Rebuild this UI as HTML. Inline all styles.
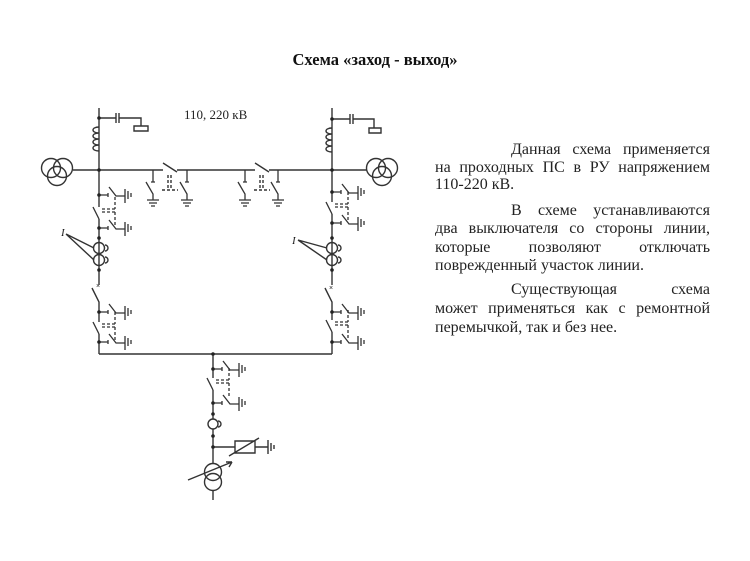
<!DOCTYPE html>
<html><head><meta charset="utf-8"><style>
body{margin:0;background:#fff;}
#w{position:relative;width:750px;height:561px;overflow:hidden;background:#fff;}
.t{position:absolute;left:0;width:750px;top:50px;text-align:center;font:bold 16.5px "Liberation Serif",serif;color:#111;}
.l{position:absolute;left:435px;width:275px;font:16px "Liberation Serif",serif;color:#222;text-align:justify;text-align-last:justify;white-space:nowrap;height:18px;line-height:18px;}
.l.e{text-align-last:left;}
.l.i{left:511px;width:199px;}
svg{position:absolute;left:0;top:0;}
</style></head><body><div id="w">
<div class="t">Схема «заход - выход»</div>
<div class="l i" style="top:141px;display:flex;justify-content:space-between"><span>Данная</span><span>схема</span><span>применяется</span></div>
<div class="l" style="top:159px;display:flex;justify-content:space-between"><span>на</span><span>проходных</span><span>ПС</span><span>в</span><span>РУ</span><span>напряжением</span></div>
<div class="l e" style="top:176px">110-220 кВ.</div>
<div class="l i" style="top:202px;display:flex;justify-content:space-between"><span>В</span><span>схеме</span><span>устанавливаются</span></div>
<div class="l" style="top:220px;display:flex;justify-content:space-between"><span>два</span><span>выключателя</span><span>со</span><span>стороны</span><span>линии,</span></div>
<div class="l" style="top:239px;display:flex;justify-content:space-between"><span>которые</span><span>позволяют</span><span>отключать</span></div>
<div class="l e" style="top:257px">поврежденный участок линии.</div>
<div class="l i" style="top:281px;display:flex;justify-content:space-between"><span>Существующая</span><span>схема</span></div>
<div class="l" style="top:300px;display:flex;justify-content:space-between"><span>может</span><span>применяться</span><span>как</span><span>с</span><span>ремонтной</span></div>
<div class="l e" style="top:319px">перемычкой, так и без нее.</div>
<svg width="750" height="561" viewBox="0 0 750 561">
<defs>
<g id="gs" stroke="#333" stroke-width="1.3" fill="none">
<path d="M0 0H9M9 -2V2M10 -8L17 1H26M26 -6V8M29 -4V4M32 -2V2"/>
</g>
<g id="gd" stroke="#333" stroke-width="1.3" fill="none">
<path d="M0 0V12M-2 12H2M-7 12L0 24V30M-6 30H6M-4 33H4M-2 36H2"/>
</g>
<g id="brk" stroke="#333" stroke-width="1.3" fill="none">
<path d="M-6 0L0 12"/>
<path d="M3 2H16M3 5H16M16 -10V2M16 5V18" stroke-dasharray="3 2"/>
</g>
</defs>
<g stroke="#333" stroke-width="1.4" fill="none">
<path d="M73 170H163M177 170H255M269 170H367"/>
<path d="M163 163L177 172M255 163L269 172"/>
<path d="M168 175V188M171 175V188M260 175V188M263 175V188M162 190H178M254 190H270" stroke-dasharray="3 2"/>
<circle cx="51" cy="168" r="9.5"/><circle cx="63" cy="168" r="9.5"/><circle cx="57" cy="176" r="9.5"/>
<circle cx="376" cy="168" r="9.5"/><circle cx="388" cy="168" r="9.5"/><circle cx="382" cy="176" r="9.5"/>
<path d="M99 108V207M99 219V285M92 288L99 302V322M99 334V354"/>
<path d="M99 118H116M116 113V123M119 113V123M119 118H141V126M134 126H148V131H134Z"/>
<path d="M99 127c-8 0-8 6 0 6c-8 0-8 6 0 6c-8 0-8 6 0 6c-8 0-8 6 0 6"/>
<circle cx="99" cy="248" r="5.5"/><circle cx="99" cy="260" r="5.5"/>
<path d="M105 245a3 3 0 0 1 0 6M105 257a3 3 0 0 1 0 6"/>
<path d="M66 234L94 248M66 234L94 260"/>
<path d="M332 108V202M332 214V285M325 288L332 302V320M332 332V354"/>
<path d="M332 119H350M350 114V124M353 114V124M353 119H374V128M369 128H381V133H369Z"/>
<path d="M332 128c-8 0-8 6 0 6c-8 0-8 6 0 6c-8 0-8 6 0 6c-8 0-8 6 0 6"/>
<circle cx="332" cy="248" r="5.5"/><circle cx="332" cy="260" r="5.5"/>
<path d="M338 245a3 3 0 0 1 0 6M338 257a3 3 0 0 1 0 6"/>
<path d="M298 240L327 248M298 240L327 260"/>
<path d="M99 354H332"/>
<path d="M213 354V378M213 390V419M213 429V464M213 490V500"/>
<path d="M213 447H235M235 441H255V453H235ZM229 456L259 438M255 447H268M268 440V454M271 443V451M274 445V449"/>
<circle cx="213" cy="424" r="5"/><path d="M218 421a3 3 0 0 1 0 6"/>
<circle cx="213" cy="472" r="8.5"/><circle cx="213" cy="482" r="8.5"/>
<path d="M188 480L232 462M232 462l-6 0M232 462l-3 5"/>
</g>
<use href="#gs" x="99" y="195"/><use href="#gs" x="99" y="228"/>
<use href="#gs" x="99" y="312"/><use href="#gs" x="99" y="342"/>
<use href="#brk" x="99" y="207"/><use href="#brk" x="99" y="322"/>
<use href="#gs" x="332" y="192"/><use href="#gs" x="332" y="223"/>
<use href="#gs" x="332" y="312"/><use href="#gs" x="332" y="342"/>
<use href="#brk" x="332" y="202"/><use href="#brk" x="332" y="320"/>
<use href="#gs" x="213" y="369"/><use href="#gs" x="213" y="403"/>
<use href="#brk" x="213" y="378"/>
<use href="#gd" x="153" y="170"/><use href="#gd" x="187" y="170"/>
<use href="#gd" x="245" y="170"/><use href="#gd" x="278" y="170"/>
<g fill="#222">
<circle cx="99" cy="118" r="1.8"/><circle cx="99" cy="170" r="1.8"/><circle cx="99" cy="195" r="1.8"/><circle cx="99" cy="228" r="1.8"/><circle cx="99" cy="238" r="1.8"/><circle cx="99" cy="270" r="1.8"/><circle cx="99" cy="312" r="1.8"/><circle cx="99" cy="342" r="1.8"/>
<circle cx="332" cy="119" r="1.8"/><circle cx="332" cy="170" r="1.8"/><circle cx="332" cy="192" r="1.8"/><circle cx="332" cy="223" r="1.8"/><circle cx="332" cy="238" r="1.8"/><circle cx="332" cy="270" r="1.8"/><circle cx="332" cy="312" r="1.8"/><circle cx="332" cy="342" r="1.8"/>
<circle cx="213" cy="354" r="1.8"/><circle cx="213" cy="369" r="1.8"/><circle cx="213" cy="403" r="1.8"/><circle cx="213" cy="414" r="1.8"/><circle cx="213" cy="436" r="1.8"/><circle cx="213" cy="447" r="1.8"/>
</g>
<text x="184" y="119" font-family="Liberation Serif, serif" font-size="13" fill="#222">110, 220 кВ</text>
<text x="61" y="236" font-family="Liberation Serif, serif" font-size="11" font-style="italic" fill="#222">I</text>
<text x="292" y="244" font-family="Liberation Serif, serif" font-size="11" font-style="italic" fill="#222">I</text>
<text x="96" y="288" font-family="Liberation Sans, sans-serif" font-size="7" fill="#222">×</text>
<text x="329" y="290" font-family="Liberation Sans, sans-serif" font-size="7" fill="#222">×</text>
</svg>
</div></body></html>
